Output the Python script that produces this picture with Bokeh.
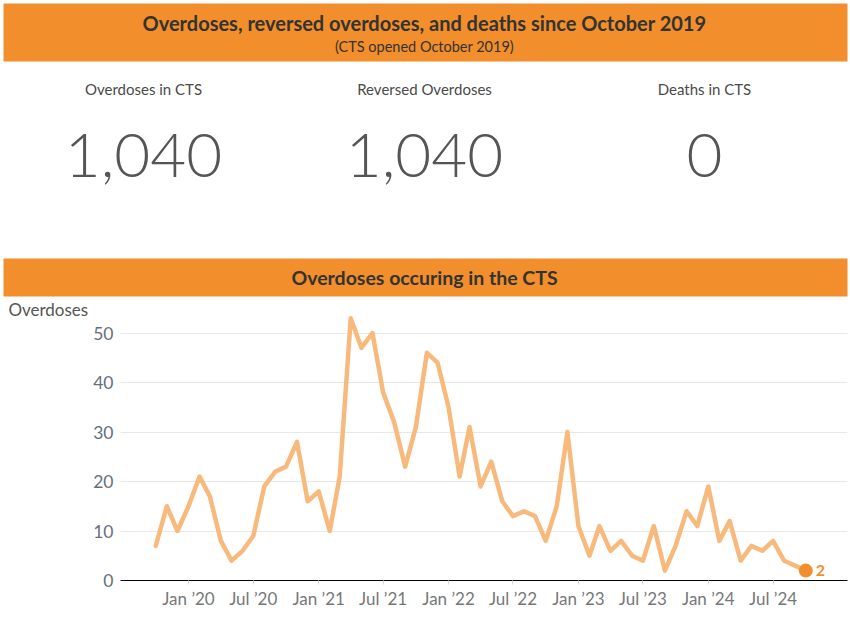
import pandas as pd
from bokeh.plotting import figure
from bokeh.models import Range1d, DatetimeTickFormatter, FixedTicker
from bokeh.core.properties import value
from bokeh.embed import file_html
from bokeh.resources import INLINE

# ---------------- data ----------------
title_main = "Overdoses, reversed overdoses, and deaths since October 2019"
title_sub = "(CTS opened October 2019)"
kpi_labels = ["Overdoses in CTS", "Reversed Overdoses", "Deaths in CTS"]
kpi_values = ["1,040", "1,040", "0"]
chart_title = "Overdoses occuring in the CTS"
y_title = "Overdoses"

first_month = "2019-10-01"
overdoses = [
    7, 15, 10,                                          # 2019 Oct-Dec
    15, 21, 17, 8, 4, 6, 9, 19, 22, 23, 28, 16,         # 2020
    18, 10, 21, 53, 47, 50, 38, 32, 23, 31, 46, 44,     # 2021
    35, 21, 31, 19, 24, 16, 13, 14, 13, 8, 15, 30,      # 2022
    11, 5, 11, 6, 8, 5, 4, 11, 2, 7, 14, 11,            # 2023
    19, 8, 12, 4, 7, 6, 8, 4, 3, 2,                     # 2024 Jan-Oct
]
y_ticks = [0, 10, 20, 30, 40, 50]
x_ticks = ["2020-01-01", "2020-07-01", "2021-01-01", "2021-07-01", "2022-01-01",
           "2022-07-01", "2023-01-01", "2023-07-01", "2024-01-01", "2024-07-01"]

months = pd.date_range(first_month, periods=len(overdoses), freq="MS")

ORANGE = "#F28E2B"
LINE = "#F7BA7C"
DARK = "#333333"
FONT = "Lato"

W = 850

# ---------------- header ----------------
H1 = 298
head = figure(width=W, height=H1, x_range=Range1d(0, W), y_range=Range1d(H1, 0),
              x_axis_type=None, y_axis_type=None, toolbar_location=None,
              output_backend="svg", min_border=0)
head.outline_line_color = None
head.xgrid.visible = False
head.ygrid.visible = False

head.quad(left=[3], right=[847], top=[3], bottom=[61], color=ORANGE, line_color=None)
head.quad(left=[3], right=[847], top=[258], bottom=[296], color=ORANGE, line_color=None)

head.text(x=[424], y=[22], text=[title_main], text_align="center", text_baseline="middle",
          text_font=value(FONT), text_font_style="bold", text_font_size="20px", text_color=DARK)
head.text(x=[424], y=[46], text=[title_sub], text_align="center", text_baseline="middle",
          text_font=value(FONT), text_font_size="14.5px", text_color=DARK)
head.text(x=[424], y=[277], text=[chart_title], text_align="center", text_baseline="middle",
          text_font=value(FONT), text_font_style="bold", text_font_size="19.5px", text_color=DARK)

kx = [143, 424, 704]
head.text(x=kx, y=[88] * 3, text=kpi_labels, text_align="center", text_baseline="middle",
          text_font=value(FONT), text_font_size="15px", text_color="#4a4a4a")
head.text(x=kx, y=[155] * 3, text=kpi_values, text_align="center", text_baseline="middle",
          text_font=value("Lato Light"), text_font_size="62px", text_color="#555555")

# ---------------- line chart ----------------
H2 = 321
px_per_month = 10.83
px_per_unit = 4.95
frame_top, frame_bottom = 309, 580
jan20 = pd.Timestamp("2020-01-01")
day = pd.Timedelta(days=30.44)
x_start = jan20 - day * ((188 - 120) / px_per_month)
x_end = jan20 + day * ((847 - 188) / px_per_month)
y_top = (frame_bottom - frame_top) / px_per_unit

p = figure(width=W, height=H2, x_axis_type="datetime",
           x_range=Range1d(x_start, x_end), y_range=Range1d(0, y_top),
           toolbar_location=None, output_backend="svg",
           min_border_left=120, min_border_right=3,
           min_border_top=frame_top - H1, min_border_bottom=H1 + H2 - frame_bottom)
p.outline_line_color = None
p.xgrid.visible = False
p.ygrid.grid_line_color = "#e8e8e8"
p.ygrid.grid_line_width = 1

p.yaxis.ticker = FixedTicker(ticks=y_ticks)
p.yaxis.axis_line_color = None
p.yaxis.major_tick_line_color = None
p.yaxis.major_tick_out = 0
p.yaxis.major_tick_in = 0
p.yaxis.minor_tick_line_color = None
p.yaxis.major_label_standoff = 7
p.yaxis.major_label_text_font = FONT
p.yaxis.major_label_text_font_size = "17.5px"
p.yaxis.major_label_text_color = "#67707a"

# y-axis title, horizontal, at the top of the axis
p.yaxis.axis_label = y_title
p.yaxis.axis_label_orientation = "horizontal"
p.yaxis.axis_label_align = "end"
p.yaxis.axis_label_standoff = 2
p.yaxis.axis_label_text_font = FONT
p.yaxis.axis_label_text_font_style = "normal"
p.yaxis.axis_label_text_font_size = "17px"
p.yaxis.axis_label_text_color = "#555555"

tick_ms = [pd.Timestamp(t).value / 1e6 for t in x_ticks]
p.xaxis.ticker = FixedTicker(ticks=tick_ms)
p.xaxis.formatter = DatetimeTickFormatter(months="%b \u2019%y", years="%b \u2019%y",
                                          days="%b \u2019%y")
p.xaxis.axis_line_color = "#000000"
p.xaxis.axis_line_width = 1
p.xaxis.major_tick_in = 0
p.xaxis.major_tick_out = 4
p.xaxis.major_tick_line_color = "#d8d8d8"
p.xaxis.minor_tick_line_color = None
p.xaxis.major_label_standoff = 3
p.xaxis.major_label_text_font = FONT
p.xaxis.major_label_text_font_size = "17px"
p.xaxis.major_label_text_color = "#777777"

p.line(months, overdoses, line_color=LINE, line_width=4.5, line_join="round", line_cap="round")
p.scatter([months[-1]], [overdoses[-1]], size=14, color=ORANGE, line_color=None)
p.text([months[-1]], [overdoses[-1]], text=[str(overdoses[-1])], x_offset=10,
       text_align="left", text_baseline="middle", text_font=value(FONT),
       text_font_style="bold", text_font_size="16px", text_color=ORANGE)

open("out.html", "w").write(file_html([head, p], INLINE))
